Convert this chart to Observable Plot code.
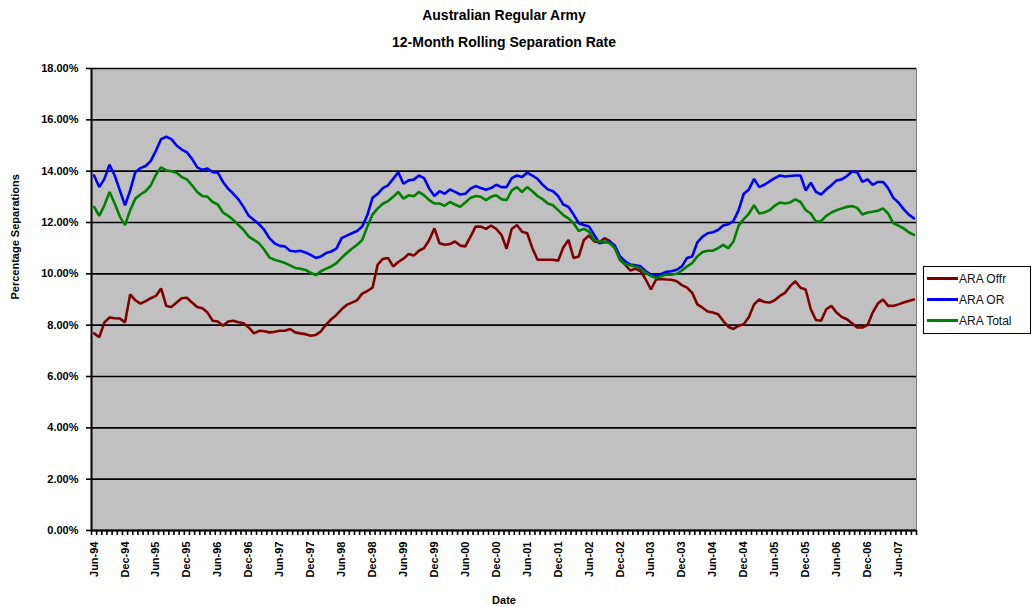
<!DOCTYPE html>
<html>
<head>
<meta charset="utf-8">
<script src="https://cdn.jsdelivr.net/npm/d3@7"></script>
<script src="https://cdn.jsdelivr.net/npm/@observablehq/plot@0.6"></script>
<style>
  body { margin: 0; background: #fff; font-family: "Liberation Sans", Arial, sans-serif; }
  #wrap { position: relative; width: 1034px; height: 607px; }
  #legend { position: absolute; left: 923px; top: 266px; width: 106px; height: 66px; border: 1.5px solid #000; background: #fff; }
  .item { position: absolute; left: 3px; height: 14px; font-size: 12px; line-height: 14px; color: #111; white-space: nowrap; }
  .item span.sw { display: inline-block; width: 31px; height: 3px; vertical-align: middle; margin-right: 1px; position: relative; top: -1px; }
</style>
</head>
<body>
<div id="wrap"></div>
<script>
// Categories: monthly, Jun-94 .. Sep-07 (160 months)
const startMonth = new Date(Date.UTC(1994, 5, 1));
const months = d3.utcMonth.range(startMonth, new Date(Date.UTC(2007, 9, 1)));

const xTickLabels = ["Jun-94","Dec-94","Jun-95","Dec-95","Jun-96","Dec-96","Jun-97","Dec-97","Jun-98","Dec-98",
  "Jun-99","Dec-99","Jun-00","Dec-00","Jun-01","Dec-01","Jun-02","Dec-02","Jun-03","Dec-03",
  "Jun-04","Dec-04","Jun-05","Dec-05","Jun-06","Dec-06","Jun-07"];
const yTicks = [0, 2, 4, 6, 8, 10, 12, 14, 16, 18];

const seriesNames = ["ARA Offr", "ARA OR", "ARA Total"];
const seriesColors = ["#800000", "#0000ff", "#008000"];

const araOffr = [
  7.68,7.53,8.11,8.30,8.27,8.26,8.11,9.20,8.97,8.84,8.94,9.05,9.14,9.43,8.75,8.71,8.88,9.05,9.07,8.88,8.71,8.66,8.49,8.17,8.14,7.98,8.14,8.17,8.11,8.07,7.91,7.68,7.78,7.76,7.72,7.74,7.78,7.78,7.85,7.72,
  7.68,7.65,7.59,7.62,7.76,8.02,8.23,8.40,8.62,8.79,8.88,8.97,9.23,9.33,9.46,10.36,10.58,10.62,10.29,10.46,10.59,10.77,10.71,10.90,11.00,11.32,11.77,11.19,11.13,11.16,11.26,11.10,11.07,11.45,11.84,11.84,11.75,11.88,11.75,11.52,
  10.98,11.75,11.90,11.64,11.58,11.00,10.55,10.55,10.55,10.55,10.51,11.03,11.32,10.62,10.68,11.32,11.49,11.26,11.23,11.39,11.28,11.03,10.55,10.36,10.13,10.20,10.10,9.78,9.39,9.78,9.80,9.78,9.77,9.71,9.56,9.46,9.26,8.81,8.68,8.53,
  8.49,8.43,8.17,7.94,7.85,7.98,8.04,8.32,8.81,9.00,8.90,8.88,8.97,9.14,9.26,9.52,9.71,9.46,9.39,8.62,8.20,8.17,8.62,8.75,8.49,8.32,8.23,8.07,7.91,7.91,8.00,8.49,8.84,9.00,8.75,8.75,8.81,8.88,8.94,9.00
];
const araOR = [
  13.83,13.38,13.70,14.25,13.83,13.25,12.67,13.25,13.96,14.12,14.20,14.40,14.80,15.25,15.34,15.25,15.00,14.84,14.73,14.48,14.15,14.05,14.10,13.96,13.94,13.58,13.32,13.12,12.90,12.60,12.26,12.10,11.93,11.71,11.39,11.19,11.09,11.07,10.90,10.87,
  10.90,10.83,10.74,10.62,10.68,10.81,10.87,10.98,11.39,11.49,11.58,11.67,11.84,12.29,12.96,13.12,13.34,13.45,13.70,13.96,13.51,13.64,13.67,13.83,13.73,13.32,13.03,13.22,13.12,13.29,13.19,13.09,13.12,13.32,13.42,13.34,13.28,13.34,13.47,13.38,
  13.38,13.73,13.83,13.77,13.94,13.83,13.70,13.47,13.29,13.22,13.03,12.70,12.61,12.31,11.97,11.90,11.84,11.52,11.19,11.23,11.26,11.10,10.68,10.49,10.36,10.33,10.29,10.10,9.97,9.91,10.00,10.08,10.10,10.16,10.29,10.62,10.68,11.23,11.45,11.58,
  11.62,11.71,11.88,11.93,12.06,12.48,13.12,13.29,13.70,13.38,13.47,13.60,13.73,13.83,13.79,13.81,13.83,13.83,13.25,13.55,13.19,13.09,13.29,13.45,13.64,13.68,13.81,13.99,13.96,13.58,13.68,13.47,13.58,13.58,13.34,12.96,12.78,12.52,12.31,12.16
];
const araTotal = [
  12.61,12.26,12.67,13.19,12.74,12.23,11.90,12.48,12.93,13.09,13.22,13.45,13.86,14.15,14.03,14.00,13.94,13.77,13.68,13.45,13.19,13.03,13.00,12.80,12.70,12.39,12.26,12.10,11.90,11.71,11.45,11.32,11.19,10.94,10.64,10.55,10.49,10.42,10.33,10.23,
  10.20,10.15,10.04,9.95,10.10,10.20,10.29,10.42,10.62,10.81,10.98,11.13,11.32,11.84,12.31,12.55,12.73,12.83,13.00,13.19,12.93,13.06,13.02,13.19,13.06,12.87,12.74,12.74,12.65,12.80,12.70,12.61,12.78,12.96,13.03,13.00,12.87,13.00,13.06,12.91,
  12.87,13.25,13.38,13.19,13.38,13.22,13.03,12.91,12.74,12.67,12.48,12.29,12.16,11.97,11.67,11.75,11.64,11.32,11.26,11.26,11.19,11.00,10.55,10.38,10.33,10.29,10.20,10.04,9.91,9.84,9.91,9.97,9.97,10.00,10.13,10.29,10.42,10.68,10.85,10.90,
  10.90,11.00,11.13,11.00,11.26,11.88,12.13,12.35,12.67,12.35,12.39,12.48,12.65,12.78,12.74,12.78,12.90,12.80,12.48,12.35,12.03,12.06,12.26,12.39,12.48,12.55,12.61,12.64,12.57,12.31,12.39,12.42,12.46,12.55,12.35,11.97,11.88,11.77,11.62,11.52
];

const seriesValues = [araOffr, araOR, araTotal];
const table = [];
seriesValues.forEach((vals, s) => vals.forEach((v, i) => table.push({ i, month: months[i], series: seriesNames[s], value: v })));

const n = months.length;
const boundaries = d3.range(n + 1).map(k => k - 0.5);
const labelIdx = xTickLabels.map((_, k) => k * 6);
const font = "Liberation Sans, Arial, sans-serif";

const chart = Plot.plot({
  width: 1034,
  height: 607,
  marginLeft: 91,
  marginRight: 118,
  marginTop: 68,
  marginBottom: 77,
  style: { fontFamily: font, background: "#fff", overflow: "visible" },
  x: { type: "linear", domain: [-0.5, n - 0.5] },
  y: { domain: [0, 18] },
  color: { domain: seriesNames, range: seriesColors },
  marks: [
    Plot.frame({ fill: "#c0c0c0", stroke: "#808080", strokeWidth: 1 }),
    Plot.ruleY(yTicks, { stroke: "#000", strokeWidth: 1.6 }),
    Plot.axisY({ ticks: yTicks, tickFormat: d => d.toFixed(2) + "%", tickSize: 5, tickPadding: 8, label: null,
      fontSize: 11, fontWeight: "bold", stroke: "#000", strokeWidth: 1.6 }),
    Plot.axisX({ ticks: boundaries, tickFormat: () => "", tickSize: 5, label: null, strokeWidth: 1.6 }),
    Plot.axisX({ ticks: labelIdx, tickFormat: d => xTickLabels[Math.round(d / 6)], tickSize: 0, tickPadding: 11,
      tickRotate: -90, label: null, fontSize: 11, fontWeight: "bold" }),
    Plot.ruleX([-0.5], { stroke: "#000", strokeWidth: 2 }),
    Plot.ruleY([0], { stroke: "#000", strokeWidth: 2 }),
    Plot.line(table, { x: "i", y: "value", stroke: "series", z: "series", strokeWidth: 2.6, strokeLinejoin: "miter" }),
    Plot.text(["Australian Regular Army"], { frameAnchor: "top", dy: -53, fontSize: 14, fontWeight: "bold", lineAnchor: "middle" }),
    Plot.text(["12-Month Rolling Separation Rate"], { frameAnchor: "top", dy: -26, fontSize: 14, fontWeight: "bold", lineAnchor: "middle" }),
    Plot.text(["Percentage Separations"], { frameAnchor: "left", dx: -76, rotate: -90, fontSize: 11, fontWeight: "bold", lineAnchor: "middle" }),
    Plot.text(["Date"], { frameAnchor: "bottom", dy: 70, fontSize: 11, fontWeight: "bold", lineAnchor: "middle" })
  ]
});

const wrap = document.getElementById("wrap");
wrap.appendChild(chart);

const legend = document.createElement("div");
legend.id = "legend";
seriesNames.forEach((name, s) => {
  const item = document.createElement("div");
  item.className = "item";
  item.style.top = (5 + s * 21) + "px";
  const sw = document.createElement("span");
  sw.className = "sw";
  sw.style.background = seriesColors[s];
  item.appendChild(sw);
  item.appendChild(document.createTextNode(name));
  legend.appendChild(item);
});
wrap.appendChild(legend);
</script>
</body>
</html>
